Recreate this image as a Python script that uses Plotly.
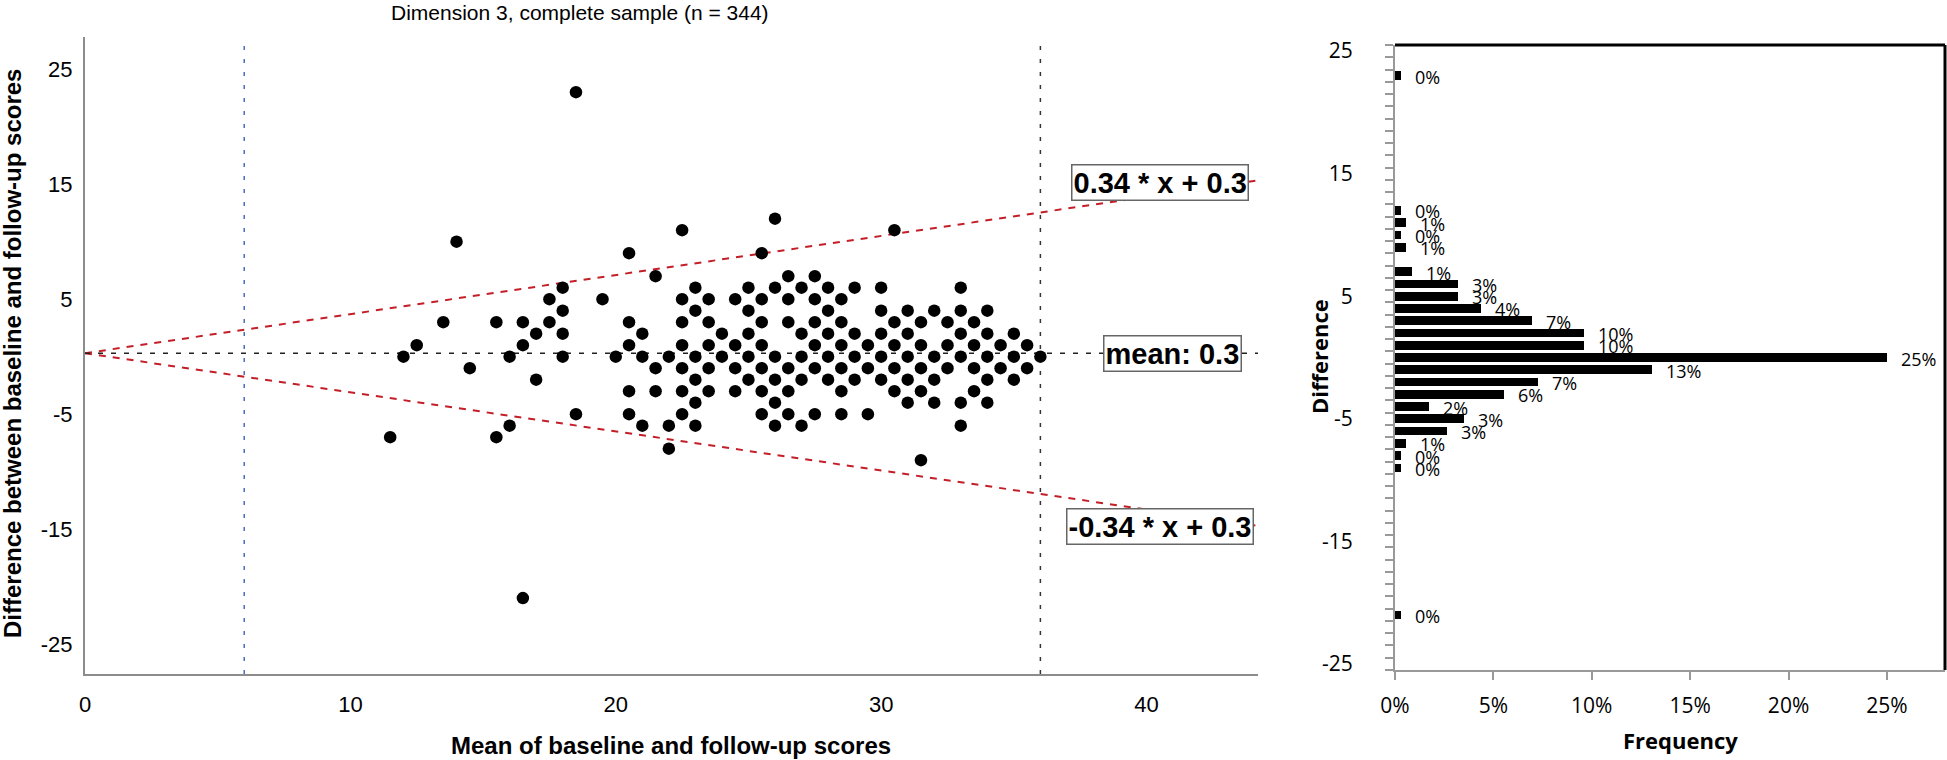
import plotly.graph_objects as go

W, H = 1947, 760

# ---------------- Bland-Altman scatter (unique plotted positions) ----------------
mean_scores = [
    18.5,
    26,
    22.5, 30.5,
    14,
    20.5, 25.5,
    21.5, 26.5, 27.5,
    18, 23, 25, 26, 27, 28, 29, 30, 33,
    17.5, 19.5, 22.5, 23.5, 24.5, 25.5, 26.5, 27.5, 28.5,
    18, 23, 25, 28, 30, 31, 32, 33, 34,
    13.5, 15.5, 16.5, 17.5, 20.5, 22.5, 23.5, 25.5, 26.5, 27.5, 28.5, 30.5, 31.5, 32.5, 33.5,
    17, 18, 21, 24, 25, 27, 28, 29, 30, 31, 33, 34, 35,
    12.5, 16.5, 20.5, 22.5, 23.5, 24.5, 25.5, 27.5, 28.5, 29.5, 30.5, 31.5, 32.5, 33.5, 34.5, 35.5,
    12, 16, 18, 20, 21, 22, 23, 24, 25, 26, 27, 28, 29, 30, 31, 32, 33, 34, 35, 36,
    14.5, 21.5, 22.5, 23.5, 24.5, 25.5, 26.5, 27.5, 28.5, 29.5, 30.5, 31.5, 32.5, 33.5, 34.5, 35.5,
    17, 23, 25, 26, 27, 28, 29, 30, 31, 32, 34, 35,
    20.5, 21.5, 22.5, 23.5, 24.5, 25.5, 26.5, 28.5, 30.5, 31.5, 33.5,
    23, 26, 31, 32, 33, 34,
    18.5, 20.5, 22.5, 25.5, 26.5, 27.5, 28.5, 29.5,
    16, 21, 22, 23, 26, 27, 33,
    11.5, 15.5,
    22,
    31.5,
    16.5,
]
diff_scores = [
    23,
    12,
    11, 11,
    10,
    9, 9,
    7, 7, 7,
    6, 6, 6, 6, 6, 6, 6, 6, 6,
    5, 5, 5, 5, 5, 5, 5, 5, 5,
    4, 4, 4, 4, 4, 4, 4, 4, 4,
    3, 3, 3, 3, 3, 3, 3, 3, 3, 3, 3, 3, 3, 3, 3,
    2, 2, 2, 2, 2, 2, 2, 2, 2, 2, 2, 2, 2,
    1, 1, 1, 1, 1, 1, 1, 1, 1, 1, 1, 1, 1, 1, 1, 1,
    0, 0, 0, 0, 0, 0, 0, 0, 0, 0, 0, 0, 0, 0, 0, 0, 0, 0, 0, 0,
    -1, -1, -1, -1, -1, -1, -1, -1, -1, -1, -1, -1, -1, -1, -1, -1,
    -2, -2, -2, -2, -2, -2, -2, -2, -2, -2, -2, -2,
    -3, -3, -3, -3, -3, -3, -3, -3, -3, -3, -3,
    -4, -4, -4, -4, -4, -4,
    -5, -5, -5, -5, -5, -5, -5, -5,
    -6, -6, -6, -6, -6, -6, -6,
    -7, -7,
    -8,
    -9,
    -21,
]

mean_diff = 0.3
loa_slope = 0.34
ref_lines_x = [6, 36]
ref_lines_color = ["#4a6cc0", "#333333"]

scatter_xticks = [0, 10, 20, 30, 40]
scatter_yticks = [25, 15, 5, -5, -15, -25]

# ---------------- Histogram of differences ----------------
diff_levels = [23, 12, 11, 10, 9, 7, 6, 5, 4, 3, 2, 1, 0, -1, -2, -3, -4, -5, -6, -7, -8, -9, -21]
freq_pct = [0.29, 0.29, 0.58, 0.29, 0.58, 0.87, 3.20, 3.20, 4.36, 6.98, 9.59, 9.59, 25.00,
            13.08, 7.27, 5.52, 1.74, 3.49, 2.62, 0.58, 0.29, 0.29, 0.29]
hist_xticks = [0, 5, 10, 15, 20, 25]
hist_yticks = [25, 15, 5, -5, -15, -25]

ARIAL = "Liberation Sans, Arial, sans-serif"
CAL = "Open Sans, Carlito, sans-serif"

X1_MAX = 44.2
Y1_RANGE = [-27.6, 27.8]


def px_x(p):
    return p / W


def px_y(p):
    return 1 - p / H


fig = go.Figure()

# limits of agreement and mean lines
line_x = [0, X1_MAX]
fig.add_trace(go.Scatter(x=line_x, y=[mean_diff + loa_slope * v for v in line_x], mode="lines",
                         line=dict(color="#c41e28", width=2, dash="7px,7px"),
                         xaxis="x", yaxis="y", showlegend=False, hoverinfo="skip"))
fig.add_trace(go.Scatter(x=line_x, y=[mean_diff - loa_slope * v for v in line_x], mode="lines",
                         line=dict(color="#c41e28", width=2, dash="7px,7px"),
                         xaxis="x", yaxis="y", showlegend=False, hoverinfo="skip"))
fig.add_trace(go.Scatter(x=line_x, y=[mean_diff, mean_diff], mode="lines",
                         line=dict(color="#222222", width=1.5, dash="5px,8px"),
                         xaxis="x", yaxis="y", showlegend=False, hoverinfo="skip"))

# points
fig.add_trace(go.Scatter(x=mean_scores, y=diff_scores, mode="markers",
                         marker=dict(color="black", size=12.5),
                         xaxis="x", yaxis="y", showlegend=False))

# histogram bars
fig.add_trace(go.Bar(x=freq_pct, y=diff_levels, orientation="h", width=0.7,
                     marker=dict(color="black", line=dict(width=0)),
                     xaxis="x2", yaxis="y2", showlegend=False))

shapes = []
for xv, col in zip(ref_lines_x, ref_lines_color):
    shapes.append(dict(type="line", xref="x", yref="y domain", x0=xv, x1=xv, y0=0, y1=1,
                       line=dict(color=col, width=1.5, dash="4px,9px"), layer="below"))
# histogram frame (top and right)
shapes.append(dict(type="line", xref="x2 domain", yref="y2 domain", x0=0, x1=1, y0=1, y1=1,
                   line=dict(color="black", width=3)))
shapes.append(dict(type="line", xref="x2 domain", yref="y2 domain", x0=1, x1=1, y0=0, y1=1,
                   line=dict(color="black", width=3)))

annotations = []
box = dict(showarrow=False, bgcolor="white", bordercolor="#666666", borderwidth=1.5, borderpad=1,
           xanchor="center", yanchor="middle",
           font=dict(family=ARIAL, size=29, color="black"), xref="x", yref="y")
annotations.append(dict(text="<b>%.2f * x + %.1f</b>" % (loa_slope, mean_diff), x=40.49, y=15.13, **box))
annotations.append(dict(text="<b>mean: %.1f</b>" % mean_diff, x=40.98, y=mean_diff, **box))
annotations.append(dict(text="<b>-%.2f * x + %.1f</b>" % (loa_slope, mean_diff), x=40.49, y=-14.78, **box))

# histogram bar labels
for v, lv in zip(freq_pct, diff_levels):
    annotations.append(dict(text="%d%%" % round(v), x=v, y=lv, xref="x2", yref="y2",
                            xanchor="left", yanchor="middle", xshift=12, yshift=-1,
                            showarrow=False, font=dict(family=CAL, size=18, color="black")))

paper = dict(xref="paper", yref="paper", showarrow=False, xanchor="center", yanchor="middle")
# titles
annotations.append(dict(text="Dimension 3, complete sample (n = 344)", x=px_x(580), y=px_y(12),
                        font=dict(family=ARIAL, size=21, color="black"), **paper))
annotations.append(dict(text="<b>Mean of baseline and follow-up scores</b>", x=px_x(671), y=px_y(745),
                        font=dict(family=ARIAL, size=24, color="black"), **paper))
annotations.append(dict(text="<b>Difference between baseline and follow-up scores</b>", x=px_x(12),
                        y=px_y(354), textangle=-90,
                        font=dict(family=ARIAL, size=24, color="black"), **paper))
annotations.append(dict(text="<b>Difference</b>", x=px_x(1319), y=px_y(357), textangle=-90,
                        font=dict(family=CAL, size=22, color="black"), **paper))
annotations.append(dict(text="<b>Frequency</b>", x=px_x(1680), y=px_y(740),
                        font=dict(family=CAL, size=22, color="black"), **paper))

boundaries = [b + 0.5 for b in range(-26, 26)]

fig.update_layout(
    width=W, height=H, autosize=False,
    margin=dict(l=0, r=0, t=0, b=0, pad=0, autoexpand=False),
    paper_bgcolor="white", plot_bgcolor="white",
    showlegend=False,
    bargap=0,
    xaxis=dict(domain=[px_x(85), px_x(1258)], range=[0, X1_MAX], anchor="y", automargin=False,
               showline=True, linecolor="#8c8c8c", linewidth=2, showgrid=False, zeroline=False,
               tickmode="array", tickvals=scatter_xticks, ticktext=[str(t) for t in scatter_xticks],
               ticks="", tickfont=dict(family=ARIAL, size=22, color="black"), ticklabelstandoff=10),
    yaxis=dict(domain=[px_y(674), px_y(37)], range=Y1_RANGE, anchor="x", automargin=False,
               showline=True, linecolor="#8c8c8c", linewidth=2, showgrid=False, zeroline=False,
               tickmode="array", tickvals=scatter_yticks, ticktext=[str(t) for t in scatter_yticks],
               ticks="", tickfont=dict(family=ARIAL, size=22, color="black"), ticklabelstandoff=6),
    xaxis2=dict(domain=[px_x(1395), px_x(1945)], range=[0, 27.95], anchor="y2", automargin=False,
                showline=True, linecolor="#999999", linewidth=2, showgrid=False, zeroline=False,
                tickmode="array", tickvals=hist_xticks, ticktext=["%d%%" % t for t in hist_xticks],
                ticks="outside", ticklen=8, tickcolor="#999999", tickwidth=2,
                tickfont=dict(family=CAL, size=21, color="black"), ticklabelstandoff=8),
    yaxis2=dict(domain=[px_y(670), px_y(45)], range=[-25.5, 25.5], anchor="x2", automargin=False,
                showline=True, linecolor="#999999", linewidth=2, showgrid=False, zeroline=False,
                tickmode="array", tickvals=hist_yticks, ticktext=[str(t) for t in hist_yticks],
                ticks="outside", ticklen=8, tickcolor="rgba(0,0,0,0)",
                minor=dict(tickmode="array", tickvals=boundaries, ticks="outside", ticklen=8,
                           tickcolor="#999999", tickwidth=2, showgrid=False),
                tickfont=dict(family=CAL, size=21, color="black"), ticklabelstandoff=28),
    shapes=shapes,
    annotations=annotations,
)

fig.write_html("out.html", config={"displayModeBar": False},
               post_script="document.body.style.margin='0px';")
